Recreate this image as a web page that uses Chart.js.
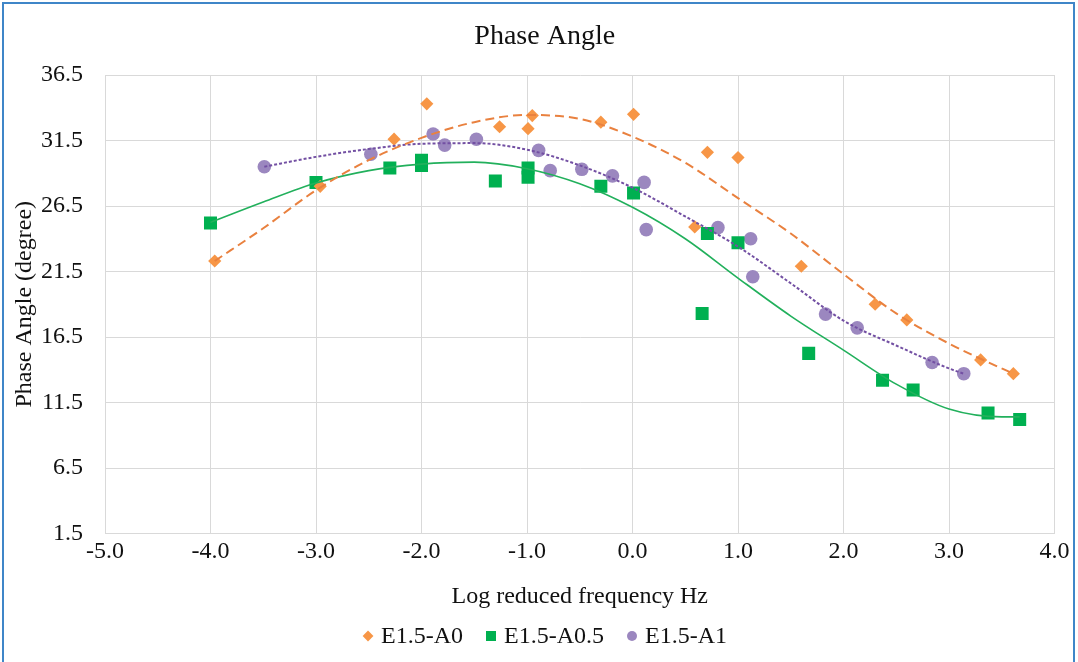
<!DOCTYPE html>
<html><head><meta charset="utf-8">
<script src="https://cdn.jsdelivr.net/npm/chart.js@4.4.1/dist/chart.umd.min.js"></script>
<style>
html,body{margin:0;padding:0;background:#fff;overflow:hidden;}
#wrap{position:relative;width:1078px;height:662px;}
#frame{position:absolute;left:2px;top:2px;width:1073px;height:680px;border:2px solid #3f86c8;box-sizing:border-box;pointer-events:none;}
canvas{position:absolute;left:0;top:0;}
</style></head><body>
<div id="wrap"><canvas id="c" width="1078" height="662"></canvas><div id="frame"></div></div>
<script>
// ---- data ----
const seriesNames = ['E1.5-A0', 'E1.5-A0.5', 'E1.5-A1'];

const a0X = [-3.96, -2.96, -2.26, -1.95, -1.26, -0.99, -0.95, -0.30, 0.01, 0.59, 0.71, 1.00, 1.60, 2.30, 2.60, 3.30, 3.61];
const a0Y = [22.3, 28.0, 31.6, 34.3, 32.55, 32.4, 33.4, 32.9, 33.5, 24.9, 30.6, 30.2, 21.9, 19.0, 17.8, 14.75, 13.7];

const a05X = [-4.00, -3.00, -2.30, -2.00, -2.00, -1.30, -0.99, -0.99, -0.30, 0.01, 0.66, 0.71, 1.00, 1.67, 2.37, 2.66, 3.37, 3.67];
const a05Y = [25.2, 28.3, 29.4, 30.0, 29.6, 28.4, 29.4, 28.7, 28.0, 27.5, 18.3, 24.4, 23.7, 15.25, 13.2, 12.45, 10.7, 10.2];

const a1X = [-3.49, -2.48, -1.89, -1.78, -1.48, -0.89, -0.78, -0.48, -0.19, 0.11, 0.13, 0.81, 1.12, 1.14, 1.83, 2.13, 2.84, 3.14];
const a1Y = [29.5, 30.45, 32.0, 31.15, 31.6, 30.75, 29.2, 29.3, 28.8, 28.3, 24.7, 24.85, 24.0, 21.1, 18.25, 17.2, 14.55, 13.7];

// trend curves
const trendA0X = [-3.96, -3.5, -3.0, -2.5, -2.0, -1.5, -1.0, -0.5, 0.0, 0.5, 1.0, 1.5, 2.0, 2.5, 3.0, 3.5, 3.61];
const trendA0Y = [22.3, 24.8, 27.7, 30.0, 31.7, 32.9, 33.45, 33.15, 31.8, 29.8, 27.1, 24.4, 21.3, 18.3, 16.0, 14.1, 13.7];

const trendA05X = [-4.0, -3.5, -3.0, -2.5, -2.0, -1.5, -1.0, -0.5, 0.0, 0.5, 1.0, 1.5, 2.0, 2.5, 3.0, 3.5, 3.67];
const trendA05Y = [25.25, 26.8, 28.25, 29.2, 29.7, 29.85, 29.35, 28.2, 26.4, 24.0, 21.0, 18.1, 15.5, 12.9, 11.0, 10.4, 10.4];

const trendA1X = [-3.49, -3.0, -2.5, -2.0, -1.5, -1.0, -0.5, 0.0, 0.5, 1.0, 1.5, 2.0, 2.5, 3.0, 3.14];
const trendA1Y = [29.5, 30.25, 30.85, 31.25, 31.3, 30.8, 29.6, 27.9, 25.7, 23.4, 20.6, 17.75, 15.85, 14.1, 13.7];

const xTickValues = [-5, -4, -3, -2, -1, 0, 1, 2, 3, 4];
const yTickValues = [1.5, 6.5, 11.5, 16.5, 21.5, 26.5, 31.5, 36.5];

const chartTitle = 'Phase Angle';
const xTitle = 'Log reduced frequency Hz';
const yTitle = 'Phase Angle (degree)';

// ---- styling ----
const FONT = '"Liberation Serif", "Times New Roman", serif';
const TXT = '#111';
const GRID = '#d9d9d9';
const colors = {
  a0Pt: '#F79646', a0Ln: '#E9813F',
  a05Pt: '#00B050', a05Ln: '#22B05C',
  a1Pt: '#9B87BF', a1Ln: '#7350A3'
};

const toPts = (xs, ys) => xs.map((x, i) => ({ x: x, y: ys[i] }));

function pointSet(label, xs, ys, style, radius, color) {
  return {
    label: label, data: toPts(xs, ys), showLine: false, inLegend: true,
    pointStyle: style, pointRadius: radius, pointHoverRadius: radius,
    pointBackgroundColor: color, pointBorderColor: color, pointBorderWidth: 0,
    backgroundColor: color, borderColor: color, order: 1
  };
}
function trendSet(label, xs, ys, color, width, dash) {
  return {
    label: label, data: toPts(xs, ys), showLine: true, inLegend: false,
    pointRadius: 0, pointHoverRadius: 0, borderColor: color, borderWidth: width,
    borderDash: dash, fill: false, cubicInterpolationMode: 'monotone', order: 0
  };
}

const datasets = [
  pointSet(seriesNames[0], a0X, a0Y, 'rectRot', 6.6, colors.a0Pt),
  pointSet(seriesNames[1], a05X, a05Y, 'rect', 9.2, colors.a05Pt),
  pointSet(seriesNames[2], a1X, a1Y, 'circle', 6.8, colors.a1Pt),
  trendSet(seriesNames[0] + ' trend', trendA0X, trendA0Y, colors.a0Ln, 2, [9, 5]),
  trendSet(seriesNames[1] + ' trend', trendA05X, trendA05Y, colors.a05Ln, 1.6, []),
  trendSet(seriesNames[2] + ' trend', trendA1X, trendA1Y, colors.a1Ln, 2, [3, 2])
];

function drawMarker(ctx, style, x, y, color) {
  ctx.fillStyle = color;
  ctx.beginPath();
  if (style === 'rectRot') {
    const r = 5.4;
    ctx.moveTo(x, y - r); ctx.lineTo(x + r, y); ctx.lineTo(x, y + r); ctx.lineTo(x - r, y); ctx.closePath();
  } else if (style === 'rect') {
    const h = 5;
    ctx.rect(x - h, y - h, 2 * h, 2 * h);
  } else {
    ctx.arc(x, y, 5, 0, Math.PI * 2);
  }
  ctx.fill();
}

const bottomLegend = {
  id: 'bottomLegend',
  afterDraw(chart) {
    const ctx = chart.ctx;
    ctx.save();
    ctx.font = '24px ' + FONT;
    ctx.textBaseline = 'middle';
    ctx.textAlign = 'left';
    const items = chart.data.datasets.filter(d => d.inLegend);
    const markerToText = 13, textToMarker = 28, markerHalf = 5;
    let total = markerHalf;
    items.forEach((d, i) => {
      total += markerToText + ctx.measureText(d.label).width;
      if (i < items.length - 1) total += textToMarker;
    });
    const centerX = 545;
    let x = centerX - total / 2 + markerHalf;
    const y = 636;
    items.forEach(d => {
      drawMarker(ctx, d.pointStyle, x, y, d.backgroundColor);
      ctx.fillStyle = TXT;
      ctx.fillText(d.label, x + markerToText, y + 1);
      x += markerToText + ctx.measureText(d.label).width + textToMarker;
    });
    ctx.restore();
  }
};

new Chart(document.getElementById('c'), {
  type: 'scatter',
  data: { datasets: datasets },
  plugins: [bottomLegend],
  options: {
    responsive: false, animation: false, devicePixelRatio: 1,
    layout: { padding: { left: 35, right: 23.5, top: 0, bottom: 0 } },
    plugins: {
      legend: { display: false },
      tooltip: { enabled: false },
      title: {
        display: true, text: chartTitle, color: TXT,
        font: { family: FONT, size: 28, weight: 'normal' },
        padding: { top: 20, bottom: 21.4 }
      }
    },
    scales: {
      x: {
        type: 'linear', min: xTickValues[0], max: xTickValues[xTickValues.length - 1],
        afterBuildTicks: s => { s.ticks = xTickValues.map(v => ({ value: v })); },
        afterFit: s => { s.height = 128.5; },
        ticks: { callback: v => Number(v).toFixed(1), color: TXT, font: { family: FONT, size: 24 }, padding: 4, autoSkip: false, maxRotation: 0 },
        grid: { color: GRID, lineWidth: 1, drawTicks: false },
        border: { color: GRID, width: 1 },
        title: { display: true, text: xTitle, color: TXT, font: { family: FONT, size: 24 }, padding: { top: 0, bottom: 50.6 } }
      },
      y: {
        type: 'linear', min: yTickValues[0], max: yTickValues[yTickValues.length - 1],
        afterBuildTicks: s => { s.ticks = yTickValues.map(v => ({ value: v })); },
        afterFit: s => { s.width = 70; },
        ticks: { callback: v => Number(v).toFixed(1), color: TXT, font: { family: FONT, size: 24 }, padding: 22, autoSkip: false },
        grid: { color: GRID, lineWidth: 1, drawTicks: false },
        border: { color: GRID, width: 1 },
        title: { display: true, text: yTitle, color: TXT, font: { family: FONT, size: 24 }, padding: { top: -25, bottom: 0 } }
      }
    }
  }
});
</script>
</body></html>
